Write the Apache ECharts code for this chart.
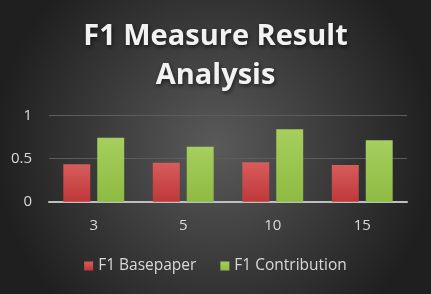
<!DOCTYPE html>
<html><head><meta charset="utf-8">
<script src="https://cdn.jsdelivr.net/npm/echarts@6/dist/echarts.min.js"></script>
<style>html,body{margin:0;padding:0;background:#333;}#c{width:431px;height:294px;}</style>
</head><body><div id="c"></div>
<script>
const categories = ['3', '5', '10', '15'];
const basepaper = [0.435, 0.453, 0.458, 0.427];
const contribution = [0.744, 0.64, 0.842, 0.714];
const yTicks = [0, 0.5, 1];

const chart = echarts.init(document.getElementById('c'));
const font = '"Open Sans", "Liberation Sans", sans-serif';
chart.setOption({
  animation: false,
  backgroundColor: {
    type: 'radial', x: 0.5, y: 0.5, r: 0.75,
    colorStops: [{offset: 0, color: '#5a5a5a'}, {offset: 1, color: '#1f1f1f'}]
  },
  title: {
    text: 'F1 Measure Result\nAnalysis',
    left: 'center', top: 12,
    textStyle: {
      color: '#f2f2f2', fontSize: 29, fontWeight: 'bold', fontFamily: font,
      lineHeight: 39, textShadowColor: 'rgba(0,0,0,0.6)', textShadowBlur: 4, textShadowOffsetX: 1, textShadowOffsetY: 2
    }
  },
  legend: {
    bottom: 15, left: 'center', itemWidth: 9, itemHeight: 9, itemGap: 24,
    icon: 'rect',
    textStyle: {color: '#d9d9d9', fontSize: 15.5, fontFamily: font},
    data: ['F1 Basepaper', 'F1 Contribution']
  },
  grid: {left: 49, right: 24, top: 115.7, bottom: 92.3, containLabel: false},
  xAxis: {
    type: 'category', data: categories,
    axisLine: {lineStyle: {color: '#bfbfbf', width: 2}},
    axisTick: {show: false},
    axisLabel: {color: '#d9d9d9', fontSize: 15, fontFamily: font, margin: 17}
  },
  yAxis: {
    type: 'value', min: yTicks[0], max: yTicks[yTicks.length - 1], interval: 0.5,
    axisLine: {show: false}, axisTick: {show: false},
    splitLine: {lineStyle: {color: '#5c5c5c', width: 1}},
    axisLabel: {color: '#d9d9d9', fontSize: 15, fontFamily: font, margin: 17}
  },
  series: [
    {
      name: 'F1 Basepaper', type: 'bar', data: basepaper,
      barGap: '26%', barCategoryGap: '32%',
      itemStyle: {color: {type: 'linear', x: 0, y: 0, x2: 0, y2: 1,
        colorStops: [{offset: 0, color: '#d85c5c'}, {offset: 1, color: '#bf3838'}]}}
    },
    {
      name: 'F1 Contribution', type: 'bar', data: contribution,
      barGap: '26%', barCategoryGap: '32%',
      itemStyle: {color: {type: 'linear', x: 0, y: 0, x2: 0, y2: 1,
        colorStops: [{offset: 0, color: '#a6cf5e'}, {offset: 1, color: '#8ebb42'}]}}
    }
  ]
});
</script></body></html>
